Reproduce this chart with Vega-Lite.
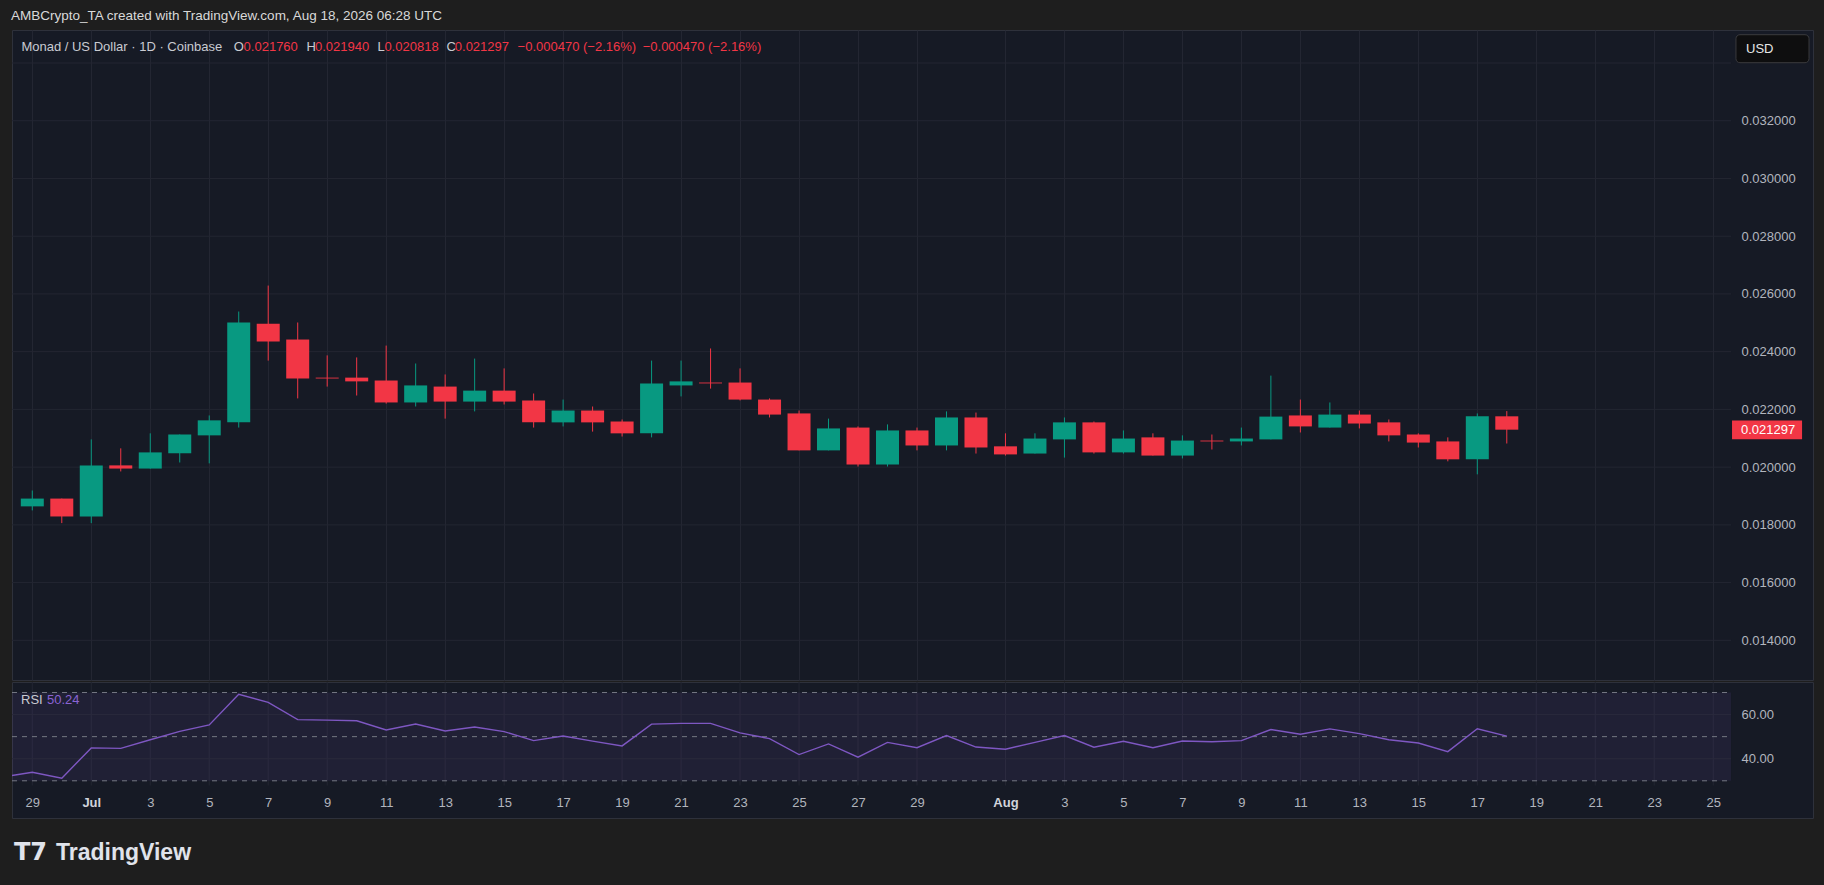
{
  "$schema": "https://vega.github.io/schema/vega-lite/v6.json",
  "background": "#1e1e1e",
  "padding": {"left": 11, "top": 9, "right": 12, "bottom": 40},
  "title": {"text": "AMBCrypto_TA created with TradingView.com, Aug 18, 2026 06:28 UTC", "anchor": "start", "color": "#d9d9d9", "fontSize": 13.5, "font": "Liberation Sans", "fontWeight": "normal", "offset": 7},
  "config": {
    "view": {"fill": "#161a25", "stroke": "#2e313b"},
    "axis": {"labelFont": "Liberation Sans", "titleFont": "Liberation Sans"},
    "text": {"font": "Liberation Sans"}
  },
  "spacing": 0,
  "datasets": {
    "ohlc": [
      {"date": "2026-06-29", "open": 0.01864, "high": 0.01919, "low": 0.01850, "close": 0.01891},
      {"date": "2026-06-30", "open": 0.01891, "high": 0.01891, "low": 0.01806, "close": 0.01829},
      {"date": "2026-07-01", "open": 0.01829, "high": 0.02096, "low": 0.01806, "close": 0.02006},
      {"date": "2026-07-02", "open": 0.02006, "high": 0.02065, "low": 0.01985, "close": 0.01995},
      {"date": "2026-07-03", "open": 0.01995, "high": 0.02117, "low": 0.01995, "close": 0.02051},
      {"date": "2026-07-04", "open": 0.02048, "high": 0.02113, "low": 0.02016, "close": 0.02113},
      {"date": "2026-07-05", "open": 0.02110, "high": 0.02179, "low": 0.02013, "close": 0.02162},
      {"date": "2026-07-06", "open": 0.02155, "high": 0.02539, "low": 0.02137, "close": 0.02501},
      {"date": "2026-07-07", "open": 0.02497, "high": 0.02629, "low": 0.02369, "close": 0.02435},
      {"date": "2026-07-08", "open": 0.02442, "high": 0.02501, "low": 0.02238, "close": 0.02307},
      {"date": "2026-07-09", "open": 0.02310, "high": 0.02387, "low": 0.02279, "close": 0.02307},
      {"date": "2026-07-10", "open": 0.02310, "high": 0.02380, "low": 0.02248, "close": 0.02297},
      {"date": "2026-07-11", "open": 0.02300, "high": 0.02421, "low": 0.02220, "close": 0.02224},
      {"date": "2026-07-12", "open": 0.02224, "high": 0.02359, "low": 0.02210, "close": 0.02283},
      {"date": "2026-07-13", "open": 0.02279, "high": 0.02321, "low": 0.02168, "close": 0.02227},
      {"date": "2026-07-14", "open": 0.02227, "high": 0.02376, "low": 0.02193, "close": 0.02265},
      {"date": "2026-07-15", "open": 0.02265, "high": 0.02342, "low": 0.02217, "close": 0.02227},
      {"date": "2026-07-16", "open": 0.02231, "high": 0.02255, "low": 0.02137, "close": 0.02155},
      {"date": "2026-07-17", "open": 0.02155, "high": 0.02234, "low": 0.02141, "close": 0.02196},
      {"date": "2026-07-18", "open": 0.02196, "high": 0.02210, "low": 0.02123, "close": 0.02155},
      {"date": "2026-07-19", "open": 0.02158, "high": 0.02165, "low": 0.02106, "close": 0.02117},
      {"date": "2026-07-20", "open": 0.02117, "high": 0.02369, "low": 0.02103, "close": 0.02290},
      {"date": "2026-07-21", "open": 0.02283, "high": 0.02369, "low": 0.02245, "close": 0.02297},
      {"date": "2026-07-22", "open": 0.02293, "high": 0.02411, "low": 0.02272, "close": 0.02290},
      {"date": "2026-07-23", "open": 0.02293, "high": 0.02342, "low": 0.02231, "close": 0.02234},
      {"date": "2026-07-24", "open": 0.02234, "high": 0.02238, "low": 0.02172, "close": 0.02182},
      {"date": "2026-07-25", "open": 0.02186, "high": 0.02196, "low": 0.02058, "close": 0.02058},
      {"date": "2026-07-26", "open": 0.02058, "high": 0.02168, "low": 0.02058, "close": 0.02134},
      {"date": "2026-07-27", "open": 0.02137, "high": 0.02141, "low": 0.02002, "close": 0.02009},
      {"date": "2026-07-28", "open": 0.02009, "high": 0.02148, "low": 0.02002, "close": 0.02127},
      {"date": "2026-07-29", "open": 0.02127, "high": 0.02137, "low": 0.02058, "close": 0.02075},
      {"date": "2026-07-30", "open": 0.02075, "high": 0.02193, "low": 0.02058, "close": 0.02172},
      {"date": "2026-07-31", "open": 0.02172, "high": 0.02189, "low": 0.02047, "close": 0.02068},
      {"date": "2026-08-01", "open": 0.02072, "high": 0.02117, "low": 0.02040, "close": 0.02044},
      {"date": "2026-08-02", "open": 0.02047, "high": 0.02117, "low": 0.02047, "close": 0.02099},
      {"date": "2026-08-03", "open": 0.02096, "high": 0.02172, "low": 0.02033, "close": 0.02155},
      {"date": "2026-08-04", "open": 0.02155, "high": 0.02158, "low": 0.02047, "close": 0.02051},
      {"date": "2026-08-05", "open": 0.02051, "high": 0.02127, "low": 0.02047, "close": 0.02099},
      {"date": "2026-08-06", "open": 0.02103, "high": 0.02117, "low": 0.02040, "close": 0.02040},
      {"date": "2026-08-07", "open": 0.02040, "high": 0.02110, "low": 0.02030, "close": 0.02092},
      {"date": "2026-08-08", "open": 0.02092, "high": 0.02113, "low": 0.02061, "close": 0.02089},
      {"date": "2026-08-09", "open": 0.02089, "high": 0.02137, "low": 0.02075, "close": 0.02099},
      {"date": "2026-08-10", "open": 0.02096, "high": 0.02317, "low": 0.02096, "close": 0.02175},
      {"date": "2026-08-11", "open": 0.02179, "high": 0.02234, "low": 0.02120, "close": 0.02141},
      {"date": "2026-08-12", "open": 0.02137, "high": 0.02224, "low": 0.02137, "close": 0.02182},
      {"date": "2026-08-13", "open": 0.02182, "high": 0.02196, "low": 0.02134, "close": 0.02151},
      {"date": "2026-08-14", "open": 0.02155, "high": 0.02165, "low": 0.02089, "close": 0.02110},
      {"date": "2026-08-15", "open": 0.02113, "high": 0.02117, "low": 0.02068, "close": 0.02085},
      {"date": "2026-08-16", "open": 0.02089, "high": 0.02103, "low": 0.02020, "close": 0.02027},
      {"date": "2026-08-17", "open": 0.02027, "high": 0.02186, "low": 0.01975, "close": 0.02176},
      {"date": "2026-08-18", "open": 0.021760, "high": 0.021940, "low": 0.020818, "close": 0.021297}
    ],
    "rsi": [
      {"date": "2026-06-28", "rsi": 31.7}, {"date": "2026-06-29", "rsi": 33.9}, {"date": "2026-06-30", "rsi": 31.2},
      {"date": "2026-07-01", "rsi": 44.9}, {"date": "2026-07-02", "rsi": 44.7}, {"date": "2026-07-03", "rsi": 48.6},
      {"date": "2026-07-04", "rsi": 52.4}, {"date": "2026-07-05", "rsi": 55.3}, {"date": "2026-07-06", "rsi": 69.2},
      {"date": "2026-07-07", "rsi": 65.5}, {"date": "2026-07-08", "rsi": 57.7}, {"date": "2026-07-09", "rsi": 57.5},
      {"date": "2026-07-10", "rsi": 57.2}, {"date": "2026-07-11", "rsi": 53.0}, {"date": "2026-07-12", "rsi": 55.7},
      {"date": "2026-07-13", "rsi": 52.6}, {"date": "2026-07-14", "rsi": 54.4}, {"date": "2026-07-15", "rsi": 52.3},
      {"date": "2026-07-16", "rsi": 48.2}, {"date": "2026-07-17", "rsi": 50.3}, {"date": "2026-07-18", "rsi": 48.0},
      {"date": "2026-07-19", "rsi": 45.8}, {"date": "2026-07-20", "rsi": 55.7}, {"date": "2026-07-21", "rsi": 56.0},
      {"date": "2026-07-22", "rsi": 56.0}, {"date": "2026-07-23", "rsi": 51.7}, {"date": "2026-07-24", "rsi": 49.1},
      {"date": "2026-07-25", "rsi": 41.9}, {"date": "2026-07-26", "rsi": 46.7}, {"date": "2026-07-27", "rsi": 40.7},
      {"date": "2026-07-28", "rsi": 47.4}, {"date": "2026-07-29", "rsi": 45.0}, {"date": "2026-07-30", "rsi": 50.5},
      {"date": "2026-07-31", "rsi": 45.3}, {"date": "2026-08-01", "rsi": 44.3}, {"date": "2026-08-02", "rsi": 47.4},
      {"date": "2026-08-03", "rsi": 50.5}, {"date": "2026-08-04", "rsi": 45.2}, {"date": "2026-08-05", "rsi": 47.9},
      {"date": "2026-08-06", "rsi": 45.0}, {"date": "2026-08-07", "rsi": 48.0}, {"date": "2026-08-08", "rsi": 47.7},
      {"date": "2026-08-09", "rsi": 48.2}, {"date": "2026-08-10", "rsi": 53.2}, {"date": "2026-08-11", "rsi": 51.1},
      {"date": "2026-08-12", "rsi": 53.5}, {"date": "2026-08-13", "rsi": 51.4}, {"date": "2026-08-14", "rsi": 48.6},
      {"date": "2026-08-15", "rsi": 47.1}, {"date": "2026-08-16", "rsi": 43.2}, {"date": "2026-08-17", "rsi": 53.6},
      {"date": "2026-08-18", "rsi": 50.24}
    ],
    "priceGrid": [
      {"p": 0.014}, {"p": 0.016}, {"p": 0.018}, {"p": 0.020}, {"p": 0.022}, {"p": 0.024},
      {"p": 0.026}, {"p": 0.028}, {"p": 0.030}, {"p": 0.032}, {"p": 0.034}
    ],
    "dateTicks": [
      {"date": "2026-06-29"}, {"date": "2026-07-01"}, {"date": "2026-07-03"}, {"date": "2026-07-05"},
      {"date": "2026-07-07"}, {"date": "2026-07-09"}, {"date": "2026-07-11"}, {"date": "2026-07-13"},
      {"date": "2026-07-15"}, {"date": "2026-07-17"}, {"date": "2026-07-19"}, {"date": "2026-07-21"},
      {"date": "2026-07-23"}, {"date": "2026-07-25"}, {"date": "2026-07-27"}, {"date": "2026-07-29"},
      {"date": "2026-08-01"}, {"date": "2026-08-03"}, {"date": "2026-08-05"}, {"date": "2026-08-07"},
      {"date": "2026-08-09"}, {"date": "2026-08-11"}, {"date": "2026-08-13"}, {"date": "2026-08-15"},
      {"date": "2026-08-17"}, {"date": "2026-08-19"}, {"date": "2026-08-21"}, {"date": "2026-08-23"},
      {"date": "2026-08-25"}
    ]
  },
  "vconcat": [
    {
      "width": 1801,
      "height": 650,
      "layer": [
        {
          "data": {"name": "priceGrid"},
          "mark": {"type": "rule", "color": "#232632", "strokeWidth": 1},
          "encoding": {
            "x": {"datum": {"year": 2026, "month": 6, "date": 28, "hours": 7, "minutes": 29, "utc": true}, "type": "temporal", "title": null},
            "x2": {"datum": {"year": 2026, "month": 8, "date": 25, "hours": 14, "minutes": 30, "utc": true}},
            "y": {"field": "p", "type": "quantitative", "title": null}
          }
        },
        {
          "data": {"name": "ohlc"},
          "mark": {"type": "rule", "strokeWidth": 1},
          "encoding": {
            "x": {
              "field": "date", "type": "temporal", "title": null,
              "scale": {"type": "utc", "nice": false, "padding": 0, "domain": [
                {"year": 2026, "month": 6, "date": 28, "hours": 7, "minutes": 29, "utc": true},
                {"year": 2026, "month": 8, "date": 28, "hours": 9, "minutes": 12, "utc": true}]},
              "axis": {
                "title": null, "labels": false, "ticks": false, "domain": false,
                "grid": true, "gridColor": "#232632", "gridOpacity": 1,
                "values": [
                  {"year": 2026, "month": 6, "date": 29, "utc": true},
                  {"year": 2026, "month": 7, "date": 1, "utc": true}, {"year": 2026, "month": 7, "date": 3, "utc": true},
                  {"year": 2026, "month": 7, "date": 5, "utc": true}, {"year": 2026, "month": 7, "date": 7, "utc": true},
                  {"year": 2026, "month": 7, "date": 9, "utc": true}, {"year": 2026, "month": 7, "date": 11, "utc": true},
                  {"year": 2026, "month": 7, "date": 13, "utc": true}, {"year": 2026, "month": 7, "date": 15, "utc": true},
                  {"year": 2026, "month": 7, "date": 17, "utc": true}, {"year": 2026, "month": 7, "date": 19, "utc": true},
                  {"year": 2026, "month": 7, "date": 21, "utc": true}, {"year": 2026, "month": 7, "date": 23, "utc": true},
                  {"year": 2026, "month": 7, "date": 25, "utc": true}, {"year": 2026, "month": 7, "date": 27, "utc": true},
                  {"year": 2026, "month": 7, "date": 29, "utc": true},
                  {"year": 2026, "month": 8, "date": 1, "utc": true}, {"year": 2026, "month": 8, "date": 3, "utc": true},
                  {"year": 2026, "month": 8, "date": 5, "utc": true}, {"year": 2026, "month": 8, "date": 7, "utc": true},
                  {"year": 2026, "month": 8, "date": 9, "utc": true}, {"year": 2026, "month": 8, "date": 11, "utc": true},
                  {"year": 2026, "month": 8, "date": 13, "utc": true}, {"year": 2026, "month": 8, "date": 15, "utc": true},
                  {"year": 2026, "month": 8, "date": 17, "utc": true}, {"year": 2026, "month": 8, "date": 19, "utc": true},
                  {"year": 2026, "month": 8, "date": 21, "utc": true}, {"year": 2026, "month": 8, "date": 23, "utc": true},
                  {"year": 2026, "month": 8, "date": 25, "utc": true}
                ]
              }
            },
            "y": {
              "field": "low", "type": "quantitative", "title": null,
              "scale": {"domain": [0.012625, 0.035143], "nice": false, "zero": false},
              "axis": {
                "title": null, "orient": "right", "offset": -82, "zindex": 1,
                "values": [0.014, 0.016, 0.018, 0.020, 0.022, 0.024, 0.026, 0.028, 0.030, 0.032],
                "format": ".6f", "labelAlign": "left", "labelPadding": 10,
                "ticks": false, "domain": false, "grid": false,
                "labelColor": "#b2b5be", "labelFontSize": 13
              }
            },
            "y2": {"field": "high"},
            "color": {"condition": {"test": "datum.open < datum.close", "value": "#089981"}, "value": "#f23645"}
          }
        },
        {
          "data": {"name": "ohlc"},
          "mark": {"type": "bar", "size": 23},
          "encoding": {
            "x": {"field": "date", "type": "temporal", "title": null},
            "y": {"field": "open", "type": "quantitative", "title": null},
            "y2": {"field": "close"},
            "color": {"condition": {"test": "datum.open < datum.close", "value": "#089981"}, "value": "#f23645"}
          }
        },
        {
          "data": {"values": [{}]},
          "mark": {"type": "text", "text": "Monad / US Dollar · 1D · Coinbase", "align": "left", "baseline": "middle", "color": "#c9cbd2", "fontSize": 13},
          "encoding": {
            "x": {"datum": {"year": 2026, "month": 6, "date": 28, "hours": 15, "minutes": 8, "utc": true}, "type": "temporal", "title": null},
            "y": {"datum": 0.03454, "type": "quantitative", "title": null}
          }
        },
        {
          "data": {"values": [{}]},
          "mark": {"type": "text", "text": "O", "align": "left", "baseline": "middle", "color": "#c9cbd2", "fontSize": 13},
          "encoding": {
            "x": {"datum": {"year": 2026, "month": 7, "date": 5, "hours": 19, "minutes": 55, "utc": true}, "type": "temporal", "title": null},
            "y": {"datum": 0.03454, "type": "quantitative", "title": null}
          }
        },
        {
          "data": {"values": [{}]},
          "mark": {"type": "text", "text": "0.021760", "align": "left", "baseline": "middle", "color": "#f23645", "fontSize": 13},
          "encoding": {
            "x": {"datum": {"year": 2026, "month": 7, "date": 6, "hours": 3, "minutes": 58, "utc": true}, "type": "temporal", "title": null},
            "y": {"datum": 0.03454, "type": "quantitative", "title": null}
          }
        },
        {
          "data": {"values": [{}]},
          "mark": {"type": "text", "text": "H", "align": "left", "baseline": "middle", "color": "#c9cbd2", "fontSize": 13},
          "encoding": {
            "x": {"datum": {"year": 2026, "month": 7, "date": 8, "hours": 7, "minutes": 4, "utc": true}, "type": "temporal", "title": null},
            "y": {"datum": 0.03454, "type": "quantitative", "title": null}
          }
        },
        {
          "data": {"values": [{}]},
          "mark": {"type": "text", "text": "0.021940", "align": "left", "baseline": "middle", "color": "#f23645", "fontSize": 13},
          "encoding": {
            "x": {"datum": {"year": 2026, "month": 7, "date": 8, "hours": 14, "minutes": 4, "utc": true}, "type": "temporal", "title": null},
            "y": {"datum": 0.03454, "type": "quantitative", "title": null}
          }
        },
        {
          "data": {"values": [{}]},
          "mark": {"type": "text", "text": "L", "align": "left", "baseline": "middle", "color": "#c9cbd2", "fontSize": 13},
          "encoding": {
            "x": {"datum": {"year": 2026, "month": 7, "date": 10, "hours": 16, "minutes": 52, "utc": true}, "type": "temporal", "title": null},
            "y": {"datum": 0.03454, "type": "quantitative", "title": null}
          }
        },
        {
          "data": {"values": [{}]},
          "mark": {"type": "text", "text": "0.020818", "align": "left", "baseline": "middle", "color": "#f23645", "fontSize": 13},
          "encoding": {
            "x": {"datum": {"year": 2026, "month": 7, "date": 10, "hours": 22, "minutes": 33, "utc": true}, "type": "temporal", "title": null},
            "y": {"datum": 0.03454, "type": "quantitative", "title": null}
          }
        },
        {
          "data": {"values": [{}]},
          "mark": {"type": "text", "text": "C", "align": "left", "baseline": "middle", "color": "#c9cbd2", "fontSize": 13},
          "encoding": {
            "x": {"datum": {"year": 2026, "month": 7, "date": 13, "hours": 1, "minutes": 10, "utc": true}, "type": "temporal", "title": null},
            "y": {"datum": 0.03454, "type": "quantitative", "title": null}
          }
        },
        {
          "data": {"values": [{}]},
          "mark": {"type": "text", "text": "0.021297", "align": "left", "baseline": "middle", "color": "#f23645", "fontSize": 13},
          "encoding": {
            "x": {"datum": {"year": 2026, "month": 7, "date": 13, "hours": 7, "minutes": 51, "utc": true}, "type": "temporal", "title": null},
            "y": {"datum": 0.03454, "type": "quantitative", "title": null}
          }
        },
        {
          "data": {"values": [{}]},
          "mark": {"type": "text", "text": "−0.000470 (−2.16%)", "align": "left", "baseline": "middle", "color": "#f23645", "fontSize": 13},
          "encoding": {
            "x": {"datum": {"year": 2026, "month": 7, "date": 15, "hours": 10, "minutes": 58, "utc": true}, "type": "temporal", "title": null},
            "y": {"datum": 0.03454, "type": "quantitative", "title": null}
          }
        },
        {
          "data": {"values": [{}]},
          "mark": {"type": "text", "text": "−0.000470 (−2.16%)", "align": "left", "baseline": "middle", "color": "#f23645", "fontSize": 13},
          "encoding": {
            "x": {"datum": {"year": 2026, "month": 7, "date": 19, "hours": 16, "minutes": 46, "utc": true}, "type": "temporal", "title": null},
            "y": {"datum": 0.03454, "type": "quantitative", "title": null}
          }
        },
        {
          "data": {"values": [{}]},
          "mark": {"type": "rect", "fill": "#0e0e0f", "stroke": "#3b3b3e", "cornerRadius": 4},
          "encoding": {
            "x": {"datum": {"year": 2026, "month": 8, "date": 25, "hours": 18, "minutes": 30, "utc": true}, "type": "temporal", "title": null},
            "x2": {"datum": {"year": 2026, "month": 8, "date": 28, "hours": 5, "minutes": 58, "utc": true}},
            "y": {"datum": 0.03498, "type": "quantitative", "title": null},
            "y2": {"datum": 0.03401}
          }
        },
        {
          "data": {"values": [{}]},
          "mark": {"type": "text", "text": "USD", "align": "left", "baseline": "middle", "color": "#e6e6e6", "fontSize": 13},
          "encoding": {
            "x": {"datum": {"year": 2026, "month": 8, "date": 26, "hours": 2, "minutes": 40, "utc": true}, "type": "temporal", "title": null},
            "y": {"datum": 0.034495, "type": "quantitative", "title": null}
          }
        },
        {
          "data": {"values": [{}]},
          "mark": {"type": "rect", "fill": "#f23645"},
          "encoding": {
            "x": {"datum": {"year": 2026, "month": 8, "date": 25, "hours": 15, "minutes": 18, "utc": true}, "type": "temporal", "title": null},
            "x2": {"datum": {"year": 2026, "month": 8, "date": 28, "hours": 0, "minutes": 18, "utc": true}},
            "y": {"datum": 0.021612, "type": "quantitative", "title": null},
            "y2": {"datum": 0.020968}
          }
        },
        {
          "data": {"values": [{}]},
          "mark": {"type": "text", "text": "0.021297", "align": "left", "baseline": "middle", "color": "#ffffff", "fontSize": 13},
          "encoding": {
            "x": {"datum": {"year": 2026, "month": 8, "date": 25, "hours": 22, "minutes": 36, "utc": true}, "type": "temporal", "title": null},
            "y": {"datum": 0.021297, "type": "quantitative", "title": null}
          }
        }
      ]
    },
    {
      "width": 1801,
      "height": 136,
      "layer": [
        {
          "data": {"name": "rsi"},
          "mark": {"type": "line", "opacity": 0, "clip": true},
          "encoding": {
            "x": {
              "field": "date", "type": "temporal", "title": null,
              "scale": {"type": "utc", "nice": false, "padding": 0, "domain": [
                {"year": 2026, "month": 6, "date": 28, "hours": 7, "minutes": 29, "utc": true},
                {"year": 2026, "month": 8, "date": 28, "hours": 9, "minutes": 12, "utc": true}]},
              "axis": {
                "title": null, "orient": "bottom", "offset": -32,
                "labelExpr": "utcdate(datum.value) == 1 ? utcFormat(datum.value, '%b') : utcFormat(datum.value, '%-d')",
                "labelFontWeight": {"condition": {"test": "utcdate(datum.value) == 1", "value": "bold"}, "value": "normal"},
                "labelColor": {"condition": {"test": "utcdate(datum.value) == 1", "value": "#d1d4dc"}, "value": "#b2b5be"},
                "labelFontSize": 13, "labelPadding": 10, "labelFlush": false, "labelOverlap": false,
                "ticks": false, "domain": false, "grid": false,
                "values": [
                  {"year": 2026, "month": 6, "date": 29, "utc": true},
                  {"year": 2026, "month": 7, "date": 1, "utc": true}, {"year": 2026, "month": 7, "date": 3, "utc": true},
                  {"year": 2026, "month": 7, "date": 5, "utc": true}, {"year": 2026, "month": 7, "date": 7, "utc": true},
                  {"year": 2026, "month": 7, "date": 9, "utc": true}, {"year": 2026, "month": 7, "date": 11, "utc": true},
                  {"year": 2026, "month": 7, "date": 13, "utc": true}, {"year": 2026, "month": 7, "date": 15, "utc": true},
                  {"year": 2026, "month": 7, "date": 17, "utc": true}, {"year": 2026, "month": 7, "date": 19, "utc": true},
                  {"year": 2026, "month": 7, "date": 21, "utc": true}, {"year": 2026, "month": 7, "date": 23, "utc": true},
                  {"year": 2026, "month": 7, "date": 25, "utc": true}, {"year": 2026, "month": 7, "date": 27, "utc": true},
                  {"year": 2026, "month": 7, "date": 29, "utc": true},
                  {"year": 2026, "month": 8, "date": 1, "utc": true}, {"year": 2026, "month": 8, "date": 3, "utc": true},
                  {"year": 2026, "month": 8, "date": 5, "utc": true}, {"year": 2026, "month": 8, "date": 7, "utc": true},
                  {"year": 2026, "month": 8, "date": 9, "utc": true}, {"year": 2026, "month": 8, "date": 11, "utc": true},
                  {"year": 2026, "month": 8, "date": 13, "utc": true}, {"year": 2026, "month": 8, "date": 15, "utc": true},
                  {"year": 2026, "month": 8, "date": 17, "utc": true}, {"year": 2026, "month": 8, "date": 19, "utc": true},
                  {"year": 2026, "month": 8, "date": 21, "utc": true}, {"year": 2026, "month": 8, "date": 23, "utc": true},
                  {"year": 2026, "month": 8, "date": 25, "utc": true}
                ]
              }
            },
            "y": {
              "field": "rsi", "type": "quantitative", "title": null,
              "scale": {"domain": [13.15, 74.76], "nice": false, "zero": false},
              "axis": {
                "title": null, "orient": "right", "offset": -82, "values": [40, 60], "format": ".2f", "zindex": 1,
                "labelAlign": "left", "labelPadding": 10, "ticks": false, "domain": false, "grid": false,
                "labelColor": "#b2b5be", "labelFontSize": 13
              }
            }
          }
        },
        {
          "data": {"name": "dateTicks"},
          "mark": {"type": "rule", "color": "#232632", "strokeWidth": 1},
          "encoding": {
            "x": {"field": "date", "type": "temporal", "title": null},
            "y": {"datum": 27.87, "type": "quantitative", "title": null},
            "y2": {"datum": 74.76}
          }
        },
        {
          "data": {"values": [{}]},
          "mark": {"type": "rect", "fill": "#7e57c2", "opacity": 0.1},
          "encoding": {
            "x": {"datum": {"year": 2026, "month": 6, "date": 28, "hours": 7, "minutes": 29, "utc": true}, "type": "temporal", "title": null},
            "x2": {"datum": {"year": 2026, "month": 8, "date": 25, "hours": 14, "minutes": 30, "utc": true}},
            "y": {"datum": 70, "type": "quantitative", "title": null},
            "y2": {"datum": 30}
          }
        },
        {
          "data": {"values": [{"r": 40}, {"r": 60}]},
          "mark": {"type": "rule", "color": "#2a2a3c", "strokeWidth": 1},
          "encoding": {
            "x": {"datum": {"year": 2026, "month": 6, "date": 28, "hours": 7, "minutes": 29, "utc": true}, "type": "temporal", "title": null},
            "x2": {"datum": {"year": 2026, "month": 8, "date": 25, "hours": 14, "minutes": 30, "utc": true}},
            "y": {"field": "r", "type": "quantitative", "title": null}
          }
        },
        {
          "data": {"values": [{"r": 30}, {"r": 50}, {"r": 70}]},
          "mark": {"type": "rule", "color": "#8a8d96", "strokeWidth": 1, "strokeDash": [5, 5], "opacity": 0.8},
          "encoding": {
            "x": {"datum": {"year": 2026, "month": 6, "date": 28, "hours": 7, "minutes": 29, "utc": true}, "type": "temporal", "title": null},
            "x2": {"datum": {"year": 2026, "month": 8, "date": 25, "hours": 14, "minutes": 30, "utc": true}},
            "y": {"field": "r", "type": "quantitative", "title": null}
          }
        },
        {
          "data": {"name": "rsi"},
          "mark": {"type": "line", "color": "#7e57c2", "strokeWidth": 1.4, "clip": true},
          "encoding": {
            "x": {"field": "date", "type": "temporal", "title": null},
            "y": {"field": "rsi", "type": "quantitative", "title": null}
          }
        },
        {
          "data": {"values": [{}]},
          "mark": {"type": "text", "text": "RSI", "align": "left", "baseline": "middle", "color": "#c9cbd2", "fontSize": 13},
          "encoding": {
            "x": {"datum": {"year": 2026, "month": 6, "date": 28, "hours": 14, "minutes": 48, "utc": true}, "type": "temporal", "title": null},
            "y": {"datum": 66.7, "type": "quantitative", "title": null}
          }
        },
        {
          "data": {"values": [{}]},
          "mark": {"type": "text", "text": "50.24", "align": "left", "baseline": "middle", "color": "#8a63d2", "fontSize": 13},
          "encoding": {
            "x": {"datum": {"year": 2026, "month": 6, "date": 29, "hours": 11, "minutes": 58, "utc": true}, "type": "temporal", "title": null},
            "y": {"datum": 66.7, "type": "quantitative", "title": null}
          }
        },
        {
          "data": {"values": [{}]},
          "mark": {"type": "text", "text": "T7", "align": "left", "baseline": "middle", "color": "#e0e3eb", "fontSize": 24, "font": "DejaVu Sans", "fontWeight": "bold"},
          "encoding": {
            "x": {"datum": {"year": 2026, "month": 6, "date": 28, "hours": 9, "minutes": 6, "utc": true}, "type": "temporal", "title": null},
            "y": {"datum": -2.48, "type": "quantitative", "title": null}
          }
        },
        {
          "data": {"values": [{}]},
          "mark": {"type": "text", "text": "TradingView", "align": "left", "baseline": "middle", "color": "#e0e3eb", "fontSize": 23, "fontWeight": "bold"},
          "encoding": {
            "x": {"datum": {"year": 2026, "month": 6, "date": 29, "hours": 19, "minutes": 17, "utc": true}, "type": "temporal", "title": null},
            "y": {"datum": -2.48, "type": "quantitative", "title": null}
          }
        }
      ]
    }
  ]
}
